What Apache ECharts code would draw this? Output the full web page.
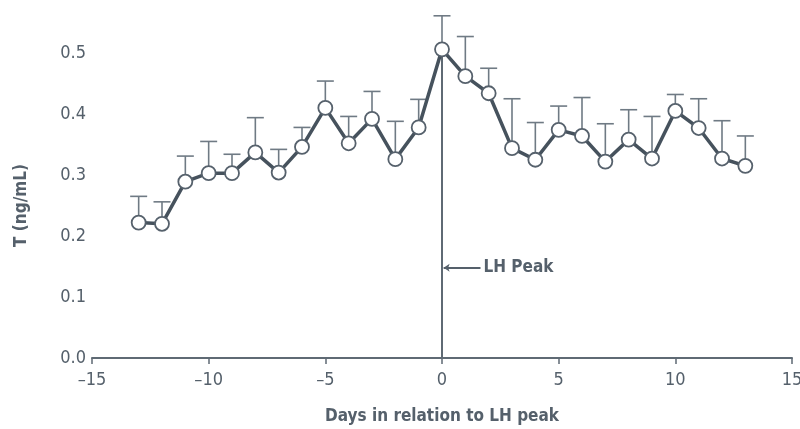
<!DOCTYPE html>
<html>
<head>
<meta charset="utf-8">
<script src="https://cdn.jsdelivr.net/npm/echarts@6/dist/echarts.min.js"></script>
<style>
  html, body { margin: 0; padding: 0; background: #fff; }
  #chart { width: 800px; height: 429px; }
</style>
</head>
<body>
<div id="chart"></div>
<script>
// days relative to LH peak
var days = [-13, -12, -11, -10, -9, -8, -7, -6, -5, -4, -3, -2, -1, 0,
            1, 2, 3, 4, 5, 6, 7, 8, 9, 10, 11, 12, 13];
// mean T (ng/mL)
var means = [0.222, 0.220, 0.289, 0.303, 0.303, 0.337, 0.304, 0.346, 0.410, 0.352, 0.392, 0.326, 0.378, 0.506,
             0.462, 0.434, 0.344, 0.325, 0.374, 0.364, 0.322, 0.358, 0.327, 0.405, 0.377, 0.327, 0.315];
// top of error bar (mean + SE)
var upper = [0.265, 0.256, 0.331, 0.355, 0.334, 0.394, 0.342, 0.378, 0.454, 0.396, 0.437, 0.388, 0.424, 0.561,
             0.527, 0.475, 0.425, 0.386, 0.413, 0.427, 0.384, 0.407, 0.396, 0.432, 0.425, 0.389, 0.364];
var yTicks = ['0.0', '0.1', '0.2', '0.3', '0.4', '0.5'];
var lhLabelY = 0.148;

var font = "'DejaVu Sans Condensed', 'Liberation Sans Narrow', sans-serif";
var ink = '#55606b';

var chart = echarts.init(document.getElementById('chart'));

var lineData = days.map(function (d, i) { return [d, means[i]]; });
var errData = days.map(function (d, i) { return [d, means[i], upper[i]]; });

var lhLabel = {
    show: true,
    position: 'start',
    formatter: 'LH Peak',
    fontFamily: font, fontSize: 17, fontWeight: 'bold', color: ink,
    distance: 3
};

var option = {
    animation: false,
    backgroundColor: '#fff',
    grid: { left: 92, right: 8, top: 53, bottom: 71, outerBoundsMode: 'none', containLabel: false },
    xAxis: {
        type: 'value',
        min: -15, max: 15, interval: 5,
        name: 'Days in relation to LH peak',
        nameLocation: 'middle',
        nameGap: 50,
        nameTextStyle: { fontFamily: font, fontSize: 17, fontWeight: 'bold', color: ink },
        axisLine: { lineStyle: { color: '#5f6a74', width: 2 } },
        axisTick: { show: true, length: 6, lineStyle: { color: '#5f6a74', width: 1.5 } },
        splitLine: { show: false },
        axisLabel: {
            fontFamily: font, fontSize: 18, color: ink, margin: 13,
            formatter: function (v) { return String(v).replace('-', '\u2013'); }
        }
    },
    yAxis: {
        type: 'value',
        min: 0, max: 0.5, interval: 0.1,
        name: 'T (ng/mL)',
        nameLocation: 'middle',
        nameRotate: 90,
        nameGap: 62,
        nameTextStyle: { fontFamily: font, fontSize: 17, fontWeight: 'bold', color: ink },
        axisLine: { show: true, lineStyle: { color: '#5f6a74', width: 2 } },
        axisTick: { show: false },
        splitLine: { show: false },
        axisLabel: {
            fontFamily: font, fontSize: 18, color: ink, margin: 6,
            formatter: function (v) { return yTicks[Math.round(v * 10)]; }
        }
    },
    series: [
        {
            type: 'custom',
            clip: false,
            z: 1,
            data: errData,
            renderItem: function (params, api) {
                var x = api.value(0);
                var p0 = api.coord([x, api.value(1)]);
                var p1 = api.coord([x, api.value(2)]);
                var half = 8.5;
                var st = { stroke: '#6f7a84', lineWidth: 1.6 };
                return {
                    type: 'group',
                    children: [
                        { type: 'line', shape: { x1: p0[0], y1: p0[1], x2: p1[0], y2: p1[1] }, style: st },
                        { type: 'line', shape: { x1: p1[0] - half, y1: p1[1], x2: p1[0] + half, y2: p1[1] }, style: st }
                    ]
                };
            }
        },
        {
            type: 'line',
            clip: false,
            z: 3,
            data: lineData,
            symbol: 'circle',
            symbolSize: 14,
            itemStyle: { color: '#fff', borderColor: '#56616c', borderWidth: 1.8 },
            lineStyle: { color: '#46525d', width: 3.5 },
            markLine: {
                silent: true,
                animation: false,
                lineStyle: { color: '#55606b', width: 1.8, type: 'solid' },
                label: { show: false },
                data: [
                    [
                        { coord: [0, 0], symbol: 'none' },
                        { coord: [0, means[13]], symbol: 'none' }
                    ],
                    [
                        { coord: [1.65, lhLabelY], symbol: 'none', label: lhLabel },
                        { coord: [0.07, lhLabelY], symbol: 'arrow', symbolSize: 6, label: lhLabel }
                    ]
                ]
            }
        }
    ]
};

chart.setOption(option);
</script>
</body>
</html>
